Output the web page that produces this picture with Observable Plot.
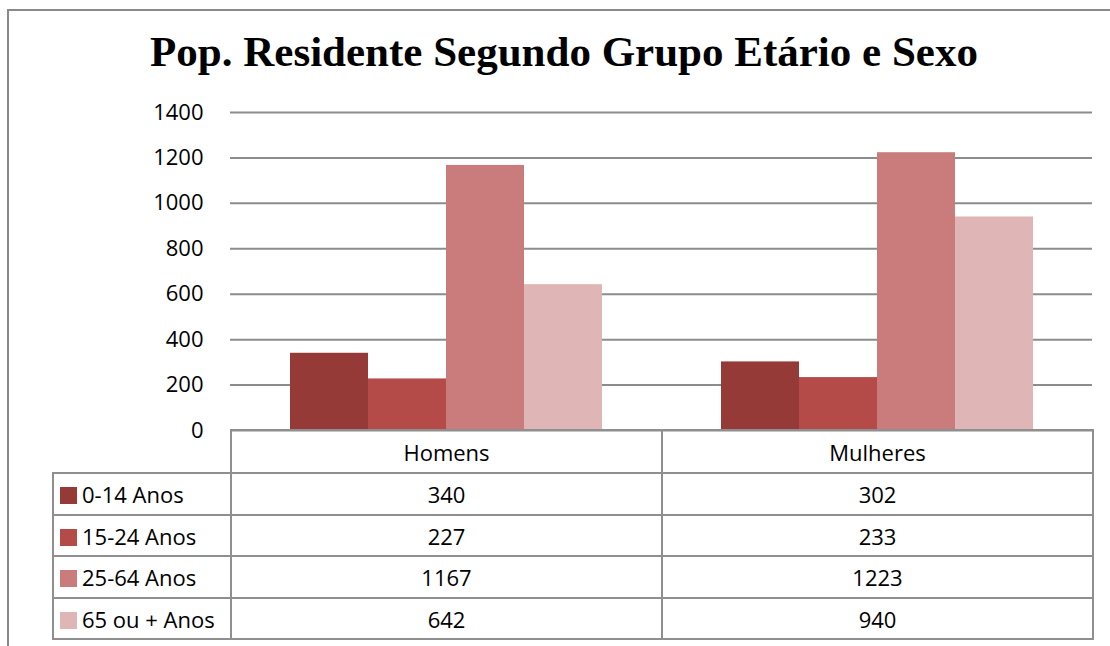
<!DOCTYPE html>
<html>
<head>
<meta charset="utf-8">
<script src="https://cdn.jsdelivr.net/npm/d3@7"></script>
<script src="https://cdn.jsdelivr.net/npm/@observablehq/plot@0.6"></script>
<style>
  html, body { margin: 0; padding: 0; background: #fff; }
  #wrap { position: relative; width: 1110px; height: 646px; overflow: hidden; font-family: "Open Sans", Lato, sans-serif; }
  #border { position: absolute; left: 7px; top: 9px; width: 1200px; height: 800px; border-left: 2px solid #8a8a8a; border-top: 2px solid #8a8a8a; }
  #title { position: absolute; left: 0; top: 27px; width: 1128px; text-align: center; font-family: "Liberation Serif", "Times New Roman", serif; font-weight: bold; font-size: 43px; word-spacing: 0px; white-space: nowrap; color: #000; }
  #chart { position: absolute; left: 0; top: 90px; }
  #chart svg { overflow: visible; }
  #tbl { position: absolute; left: 52px; top: 429px; border-collapse: collapse; font-family: "Open Sans", Lato, sans-serif; font-size: 22px; color: #000; }
  #tbl td { border: 2px solid #8f8f8f; padding: 0; text-align: center; box-sizing: border-box; }
  #tbl td.lab { text-align: left; padding-left: 6px; white-space: nowrap; }
  #tbl td.corner { border-top: none; border-left: none; }
  .sw { display: inline-block; width: 17px; height: 17px; margin-right: 5px; vertical-align: -1px; }
</style>
</head>
<body>
<div id="wrap">
  <div id="border"></div>
  <div id="title">Pop. Residente Segundo Grupo Etário e Sexo</div>
  <div id="chart"></div>
  <table id="tbl"></table>
</div>
<script>
const groups = ["Homens", "Mulheres"];
const series = ["0-14 Anos", "15-24 Anos", "25-64 Anos", "65 ou + Anos"];
const homens = [340, 227, 1167, 642];
const mulheres = [302, 233, 1223, 940];
const colors = ["#963a38", "#b44b48", "#c97c7b", "#dfb5b5"];
const yTicks = [0, 200, 400, 600, 800, 1000, 1200, 1400];

const valuesByGroup = { "Homens": homens, "Mulheres": mulheres };
const data = [];
for (const g of groups) {
  series.forEach((s, i) => data.push({ group: g, series: s, value: valuesByGroup[g][i] }));
}

const plot = Plot.plot({
  width: 1110,
  height: 360,
  marginTop: 22,
  marginBottom: 20,
  marginLeft: 230,
  marginRight: 18,
  style: { fontFamily: "'Open Sans', Lato, sans-serif", fontSize: "22px", color: "#000", background: "transparent", overflow: "visible" },
  fx: { domain: groups, padding: 0, axis: null },
  x: { domain: series, paddingInner: 0, paddingOuter: 0.745, axis: null },
  y: { domain: [0, 1400], axis: null },
  color: { domain: series, range: colors },
  marks: [
    Plot.gridY(yTicks, { stroke: "#8c8c8c", strokeOpacity: 1, strokeWidth: 2 }),
    Plot.barY(data, { fx: "group", x: "series", y: "value", fill: "series", inset: 0 }),
    Plot.axisY(yTicks, { tickSize: 0, tickPadding: 27, fill: "#000", fontSize: 22, tickFormat: "d", label: null, line: true, stroke: "#8c8c8c", strokeWidth: 2 })
  ]
});
document.getElementById("chart").appendChild(plot);

// data table
const tbl = document.getElementById("tbl");
const head = document.createElement("tr");
const corner = document.createElement("td");
corner.className = "corner";
corner.style.width = "178px";
head.appendChild(corner);
for (const g of groups) {
  const td = document.createElement("td");
  td.style.width = "431px";
  td.style.height = "43px";
  td.textContent = g;
  head.appendChild(td);
}
tbl.appendChild(head);
const rowH = [42, 41, 42, 41];
series.forEach((s, i) => {
  const tr = document.createElement("tr");
  const lab = document.createElement("td");
  lab.className = "lab";
  lab.style.height = rowH[i] + "px";
  const sw = document.createElement("span");
  sw.className = "sw";
  sw.style.background = colors[i];
  lab.appendChild(sw);
  lab.appendChild(document.createTextNode(s));
  tr.appendChild(lab);
  for (const g of groups) {
    const td = document.createElement("td");
    td.style.height = rowH[i] + "px";
    td.textContent = valuesByGroup[g][i];
    tr.appendChild(td);
  }
  tbl.appendChild(tr);
});
</script>
</body>
</html>
